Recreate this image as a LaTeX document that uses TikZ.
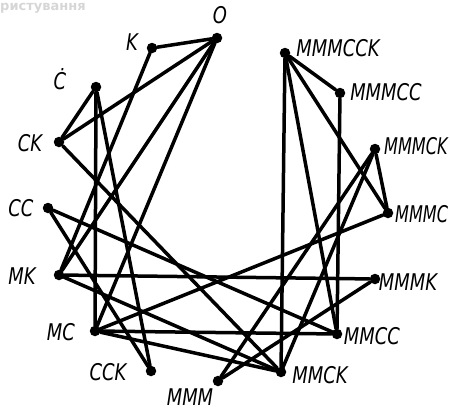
\documentclass[tikz,border=0pt]{standalone}
\usepackage{fontspec}
\newfontfamily\labfont{DejaVu Sans}[FakeStretch=0.78]
\newfontfamily\labnarrow{DejaVu Sans}[FakeStretch=0.70]
\newfontfamily\wmfont{DejaVu Sans}
\begin{document}
\begin{tikzpicture}[x=1pt,y=-1pt,
  dot/.style={circle,fill=black,inner sep=0pt,minimum size=10.5pt},
  edge/.style={line width=3.5pt,line cap=round},
  lab/.style={font=\labfont\itshape\fontsize{23}{23}\selectfont,inner sep=0pt},
  labn/.style={font=\labnarrow\itshape\fontsize{23}{23}\selectfont,inner sep=0pt},
  wm/.style={font=\wmfont\bfseries\fontsize{13}{13}\selectfont,text=black!16,inner sep=0pt}]
\useasboundingbox (0,0) rectangle (450,410);
\node[wm,anchor=base west] (wmk) at (0,10) {ристування};
% dots
\node[dot] (O) at (217,38) {};
\node[dot] (K) at (152,48) {};
\node[dot] (C) at (96,87) {};
\node[dot] (CK) at (59,142) {};
\node[dot] (CC) at (48,208) {};
\node[dot] (MK) at (59,275) {};
\node[dot] (MC) at (95,331) {};
\node[dot] (CCK) at (151,371) {};
\node[dot] (MMM) at (218,381) {};
\node[dot] (MMCK) at (281,372) {};
\node[dot] (MMCC) at (337,334) {};
\node[dot] (MMMK) at (375,279) {};
\node[dot] (MMMC) at (388,213) {};
\node[dot] (MMMCK) at (375,149) {};
\node[dot] (MMMCC) at (340,93) {};
\node[dot] (MMMCCK) at (285,53) {};
% labels
\node[lab] (lO) at (220,15) {O};
\node[lab] (lK) at (132,42) {K};
\node[lab] (lC) at (60,79) {\.C};
\node[lab] (lCK) at (30,143) {CK};
\node[lab] (lCC) at (21,208) {CC};
\node[lab] (lMK) at (22,276) {MK};
\node[lab] (lMC) at (61,332) {MC};
\node[lab] (lCCK) at (108,372) {CCK};
\node[lab] (lMMM) at (190,397) {MMM};
\node[lab] (lMMCK) at (320,375) {MMCK};
\node[lab] (lMMCC) at (372,336) {MMCC};
\node[lab] (lMMMK) at (408,282) {MMMK};
\node[labn,anchor=west] (lMMMC) at (395,214) {MMMC};
\node[labn,anchor=west] (lMMMCK) at (384,146) {MMMCK};
\node[lab] (lMMMCC) at (386,92) {MMMCC};
\node[lab] (lMMMCCK) at (338,48) {MMMCCK};
% edges
\draw[edge] (O) -- (K);
\draw[edge] (O) -- (CK);
\draw[edge] (O) -- (MK);
\draw[edge] (O) -- (MC);
\draw[edge] (K) -- (MK);
\draw[edge] (C) -- (CK);
\draw[edge] (C) -- (MC);
\draw[edge] (C) -- (CCK);
\draw[edge] (CK) -- (MMCK);
\draw[edge] (CC) -- (MMCC);
\draw[edge] (CC) -- (CCK);
\draw[edge] (MK) -- (MMMK);
\draw[edge] (MK) -- (MMCK);
\draw[edge] (MC) -- (MMCC);
\draw[edge] (MC) -- (MMMC);
\draw[edge] (MC) -- (MMCK);
\draw[edge] (MMM) -- (MMMK);
\draw[edge] (MMM) -- (MMMCK);
\draw[edge] (MMCK) -- (MMMCK);
\draw[edge] (MMCK) -- (MMMCCK);
\draw[edge] (MMCC) -- (MMMCC);
\draw[edge] (MMCC) -- (MMMCCK);
\draw[edge] (MMMC) -- (MMMCCK);
\draw[edge] (MMMC) -- (MMMCK);
\draw[edge] (MMMCC) -- (MMMCCK);
\end{tikzpicture}
\end{document}
